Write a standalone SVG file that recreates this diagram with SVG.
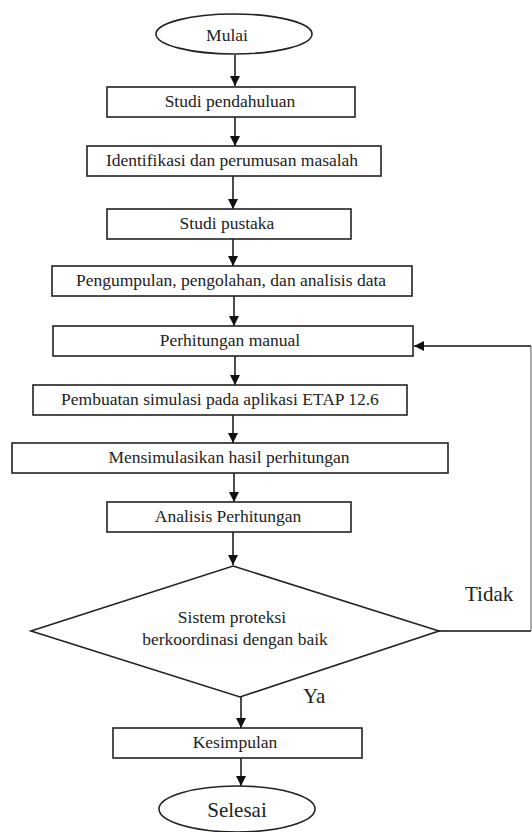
<svg xmlns="http://www.w3.org/2000/svg" width="532" height="832" viewBox="0 0 532 832">
<style>
.s{fill:#fff;stroke:#222;stroke-width:1.6}
.t{font-family:"Liberation Serif","Times New Roman",serif;font-size:17.5px;fill:#222;text-anchor:middle}
.l{font-family:"Liberation Serif","Times New Roman",serif;font-size:21px;fill:#222}
.c{fill:none;stroke:#111;stroke-width:1.5}
</style>
<defs>
<marker id="a" viewBox="0 0 10 10" refX="10" refY="5" markerWidth="10" markerHeight="10" markerUnits="userSpaceOnUse" orient="auto">
<path d="M0,0 L10,5 L0,10 z" fill="#111"/>
</marker>
</defs>
<g id="connectors">
<line class="c" x1="235" y1="55" x2="235" y2="86" marker-end="url(#a)"/>
<line class="c" x1="235" y1="117" x2="235" y2="146" marker-end="url(#a)"/>
<line class="c" x1="233" y1="176" x2="233" y2="209" marker-end="url(#a)"/>
<line class="c" x1="233" y1="239" x2="233" y2="266" marker-end="url(#a)"/>
<line class="c" x1="234" y1="296" x2="234" y2="326" marker-end="url(#a)"/>
<line class="c" x1="235" y1="356" x2="235" y2="385" marker-end="url(#a)"/>
<line class="c" x1="233" y1="415" x2="233" y2="443" marker-end="url(#a)"/>
<line class="c" x1="234" y1="473" x2="234" y2="502" marker-end="url(#a)"/>
<line class="c" x1="233" y1="532" x2="233" y2="565" marker-end="url(#a)"/>
<line class="c" x1="241" y1="697" x2="241" y2="728" marker-end="url(#a)"/>
<line class="c" x1="241" y1="758" x2="241" y2="786" marker-end="url(#a)"/>
<polyline class="c" points="439,631 531,631"/>
<polyline fill="none" stroke="#555" stroke-width="1" points="531,631 531,346"/>
<line class="c" x1="531" y1="346" x2="414" y2="346" marker-end="url(#a)"/>
<text class="l" x="465" y="601">Tidak</text>
<text class="l" x="303" y="703">Ya</text>
</g>
<g id="mulai">
<ellipse class="s" cx="234" cy="34" rx="78" ry="20"/>
<text class="t" x="227" y="41">Mulai</text>
</g>
<g id="studi-pendahuluan">
<rect class="s" x="107" y="87" width="248" height="30"/>
<text class="t" x="230" y="107">Studi pendahuluan</text>
</g>
<g id="identifikasi">
<rect class="s" x="87" y="146" width="294" height="30"/>
<text class="t" x="232" y="166">Identifikasi dan perumusan masalah</text>
</g>
<g id="studi-pustaka">
<rect class="s" x="107" y="209" width="244" height="30"/>
<text class="t" x="227" y="229">Studi pustaka</text>
</g>
<g id="pengumpulan">
<rect class="s" x="52" y="266" width="360" height="30"/>
<text class="t" x="231" y="286">Pengumpulan, pengolahan, dan analisis data</text>
</g>
<g id="perhitungan-manual">
<rect class="s" x="53" y="326" width="360" height="30"/>
<text class="t" x="230" y="346">Perhitungan manual</text>
</g>
<g id="pembuatan-simulasi">
<rect class="s" x="33" y="385" width="374" height="30"/>
<text class="t" x="220" y="405">Pembuatan simulasi pada aplikasi ETAP 12.6</text>
</g>
<g id="mensimulasikan">
<rect class="s" x="12" y="443" width="436" height="30"/>
<text class="t" x="229" y="463">Mensimulasikan hasil perhitungan</text>
</g>
<g id="analisis">
<rect class="s" x="107" y="502" width="244" height="30"/>
<text class="t" x="228" y="522">Analisis Perhitungan</text>
</g>
<g id="keputusan">
<polygon class="s" points="233,566 439,631 240,697 31,631"/>
<text class="t" x="232" y="623">Sistem proteksi</text>
<text class="t" x="235" y="645">berkoordinasi dengan baik</text>
</g>
<g id="kesimpulan">
<rect class="s" x="113" y="728" width="249" height="30"/>
<text class="t" x="235" y="748">Kesimpulan</text>
</g>
<g id="selesai">
<ellipse class="s" cx="237" cy="809" rx="78" ry="23"/>
<text class="l" x="237" y="817" text-anchor="middle">Selesai</text>
</g>
</svg>
